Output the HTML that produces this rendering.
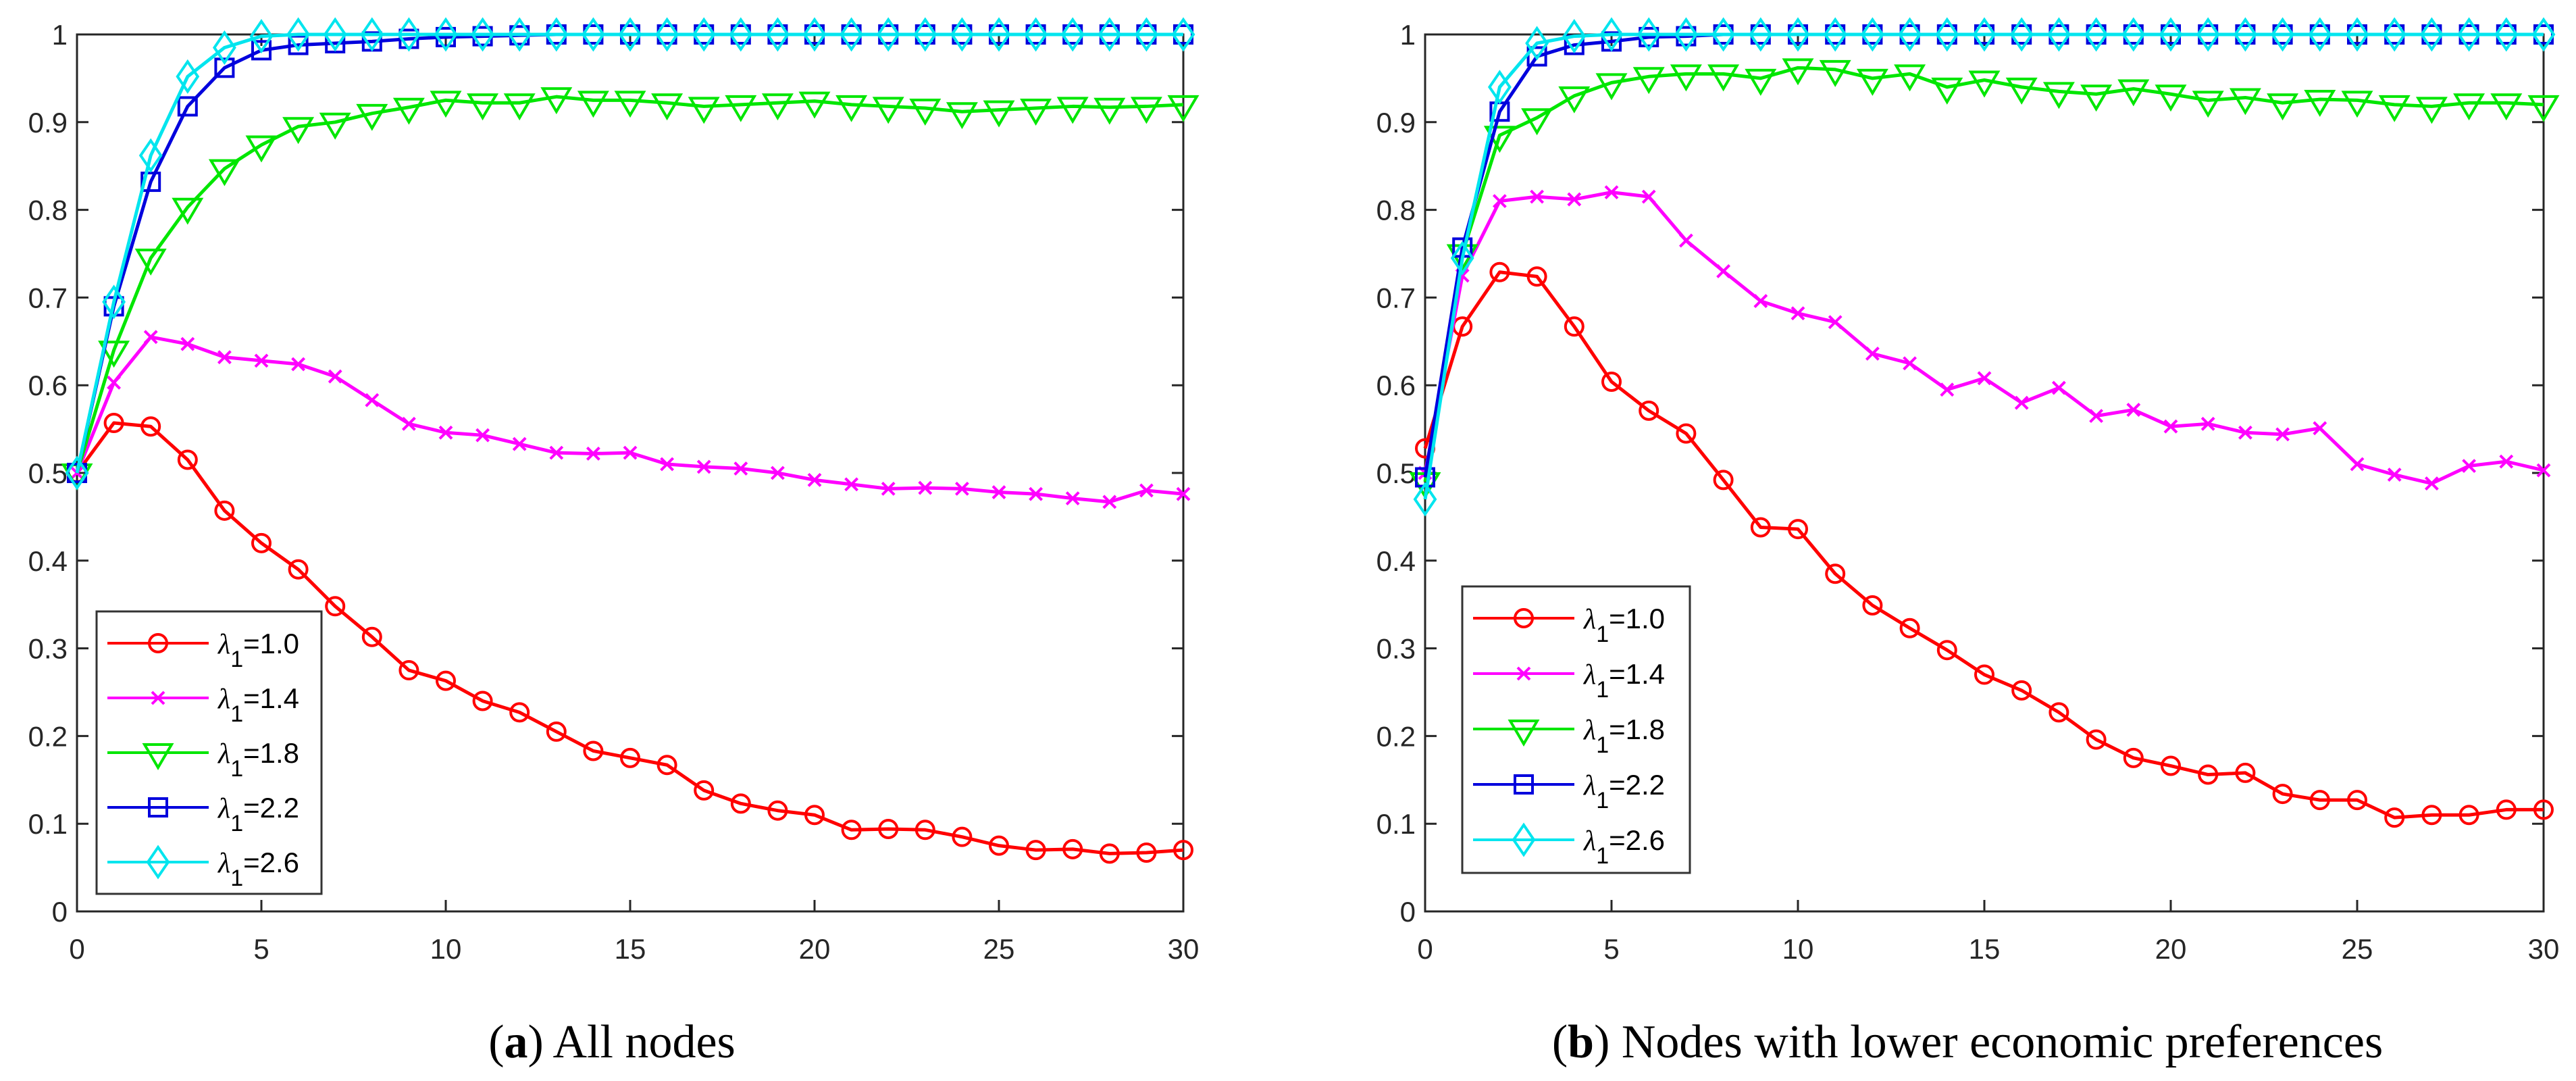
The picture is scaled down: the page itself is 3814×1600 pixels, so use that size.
<!DOCTYPE html>
<html><head><meta charset="utf-8"><style>
body{margin:0;background:#fff;}
svg{display:block;}
text{font-family:"Liberation Sans",Arial,sans-serif;}
</style></head><body>
<svg id="fig" width="3814" height="1600" xmlns="http://www.w3.org/2000/svg"></svg>
<script>
const xs = Array.from({length:31},(_, i)=>i);
const xTicks = [0,5,10,15,20,25,30];
const yTicks = [0,0.1,0.2,0.3,0.4,0.5,0.6,0.7,0.8,0.9,1];
const yTickLabels = ["0","0.1","0.2","0.3","0.4","0.5","0.6","0.7","0.8","0.9","1"];
const seriesNames = ["λ1=1.0","λ1=1.4","λ1=1.8","λ1=2.2","λ1=2.6"];
const legendValues = ["1.0","1.4","1.8","2.2","2.6"];
// Panel (a)
const aRed = [0.5,0.557,0.553,0.515,0.457,0.42,0.39,0.348,0.313,0.275,0.263,0.24,0.227,0.205,0.183,0.175,0.167,0.138,0.123,0.115,0.11,0.093,0.094,0.093,0.085,0.075,0.07,0.071,0.066,0.067,0.07];
const aMagenta = [0.5,0.603,0.655,0.647,0.632,0.628,0.624,0.61,0.583,0.556,0.546,0.543,0.533,0.523,0.522,0.523,0.51,0.507,0.505,0.5,0.492,0.487,0.482,0.483,0.482,0.478,0.476,0.471,0.467,0.48,0.476];
const aGreen = [0.5,0.64,0.745,0.803,0.847,0.874,0.895,0.9,0.91,0.917,0.925,0.922,0.922,0.929,0.925,0.925,0.922,0.918,0.92,0.922,0.924,0.92,0.918,0.916,0.912,0.914,0.916,0.918,0.917,0.918,0.92];
const aBlue = [0.5,0.69,0.832,0.918,0.962,0.982,0.988,0.99,0.992,0.995,0.997,0.998,0.999,1,1,1,1,1,1,1,1,1,1,1,1,1,1,1,1,1,1];
const aCyan = [0.5,0.695,0.862,0.952,0.985,0.998,1,1,1,1,1,1,1,1,1,1,1,1,1,1,1,1,1,1,1,1,1,1,1,1,1];
// Panel (b)
const bRed = [0.528,0.667,0.729,0.724,0.667,0.604,0.571,0.545,0.492,0.438,0.436,0.385,0.349,0.323,0.298,0.27,0.252,0.227,0.196,0.175,0.166,0.156,0.158,0.134,0.127,0.127,0.107,0.11,0.11,0.116,0.116];
const bMagenta = [0.5,0.725,0.81,0.815,0.812,0.82,0.815,0.765,0.73,0.696,0.682,0.672,0.636,0.625,0.595,0.608,0.58,0.597,0.565,0.572,0.553,0.556,0.546,0.544,0.551,0.51,0.498,0.488,0.508,0.513,0.503];
const bGreen = [0.49,0.75,0.885,0.905,0.93,0.945,0.952,0.955,0.955,0.95,0.962,0.96,0.95,0.955,0.94,0.948,0.94,0.935,0.932,0.938,0.932,0.925,0.928,0.922,0.926,0.925,0.92,0.918,0.922,0.922,0.92];
const bBlue = [0.495,0.757,0.912,0.975,0.988,0.992,0.997,0.998,1,1,1,1,1,1,1,1,1,1,1,1,1,1,1,1,1,1,1,1,1,1,1];
const bCyan = [0.47,0.745,0.94,0.99,0.998,1,1,1,1,1,1,1,1,1,1,1,1,1,1,1,1,1,1,1,1,1,1,1,1,1,1];

const NS="http://www.w3.org/2000/svg";
const svg=document.getElementById('fig');
function mk(tag,attrs,parent){const e=document.createElementNS(NS,tag);for(const k in attrs)e.setAttribute(k,attrs[k]);(parent||svg).appendChild(e);return e;}
const colors=["#ff0000","#ff00ff","#00e600","#0000dd","#00e5ee"];
const markers=["circle","x","tri","square","diamond"];

function marker(g,type,cx,cy,color){
  let e;
  if(type==="circle"){e=mk('circle',{cx:cx,cy:cy,r:13,fill:'none',stroke:color,'stroke-width':4},g);}
  else if(type==="x"){e=mk('path',{d:`M${cx-9} ${cy-9}L${cx+9} ${cy+9}M${cx-9} ${cy+9}L${cx+9} ${cy-9}`,stroke:color,'stroke-width':4,fill:'none'},g);}
  else if(type==="tri"){e=mk('path',{d:`M${cx-20} ${cy-12}L${cx+20} ${cy-12}L${cx} ${cy+22}Z`,stroke:color,'stroke-width':4,fill:'none'},g);}
  else if(type==="square"){e=mk('rect',{x:cx-13,y:cy-13,width:26,height:26,stroke:color,'stroke-width':4,fill:'none'},g);}
  else {e=mk('path',{d:`M${cx} ${cy-22}L${cx+15} ${cy}L${cx} ${cy+22}L${cx-15} ${cy}Z`,stroke:color,'stroke-width':4,fill:'none'},g);}
  
  
}

function panel(id,x0,x1,y0,y1,series,legend,caption,capX){
  const g=mk('g',{});
  
  
  const sx=v=>x0+(v-0)/(30-0)*(x1-x0);
  const sy=v=>y1-(v-0)/(1-0)*(y1-y0);
  const box=mk('rect',{x:x0,y:y0,width:x1-x0,height:y1-y0,fill:'none',stroke:'#262626','stroke-width':3},g);
  
  
  xTicks.forEach(t=>{
    const X=sx(t);
    mk('line',{x1:X,y1:y1,x2:X,y2:y1-17,stroke:'#262626','stroke-width':3},g);
    mk('line',{x1:X,y1:y0,x2:X,y2:y0+17,stroke:'#262626','stroke-width':3},g);
    const tx=mk('text',{x:X,y:y1+70,'font-size':42,'text-anchor':'middle',fill:'#262626'},g);
    tx.textContent=t;
    
    
  });
  yTicks.forEach((t,i)=>{
    const Y=sy(t);
    mk('line',{x1:x0,y1:Y,x2:x0+17,y2:Y,stroke:'#262626','stroke-width':3},g);
    mk('line',{x1:x1,y1:Y,x2:x1-17,y2:Y,stroke:'#262626','stroke-width':3},g);
    const ty=mk('text',{x:x0-14,y:Y+15,'font-size':42,'text-anchor':'end',fill:'#262626'},g);
    ty.textContent=yTickLabels[i];
    
    
  });
  series.forEach((arr,si)=>{
    const sg=mk('g',{},g);
    
    
    const pts=arr.map((v,i)=>sx(xs[i])+','+sy(v)).join(' ');
    const pl=mk('polyline',{points:pts,fill:'none',stroke:colors[si],'stroke-width':5,'stroke-linejoin':'round'},sg);
    
    
    arr.forEach((v,i)=>marker(sg,markers[si],sx(xs[i]),sy(v),colors[si]));
  });
  const lg=mk('g',{},g);
  
  
  mk('rect',{x:legend.x,y:legend.y,width:legend.w,height:legend.h,fill:'#fff',stroke:'#333','stroke-width':3},lg);
  seriesNames.forEach((n,si)=>{
    const Y=legend.row0+si*legend.dy;
    const eg=mk('g',{},lg);
    
    
    mk('line',{x1:legend.x+16,y1:Y,x2:legend.x+166,y2:Y,stroke:colors[si],'stroke-width':4},eg);
    marker(eg,markers[si],legend.x+91,Y,colors[si]);
    const t=mk('text',{x:legend.x+180,y:Y+15,'font-size':42,fill:'#000'},eg);
    const l=mk('tspan',{style:'font-family:"Liberation Serif",serif;font-style:italic'},t);l.textContent='λ';
    const s=mk('tspan',{dy:20,'font-size':34},t);s.textContent='1';
    const r=mk('tspan',{dy:-20},t);r.textContent='='+legendValues[si];
  });
  const c=mk('text',{x:capX,y:1565,'font-size':70,'text-anchor':'middle',style:'font-family:"Liberation Serif",serif',fill:'#000'},g);
  
  
  const a=mk('tspan',{},c);a.textContent='(';
  const b=mk('tspan',{'font-weight':'bold'},c);b.textContent=id;
  const d=mk('tspan',{},c);d.textContent=') '+caption;
}
panel('a',114,1752,51,1349,[aRed,aMagenta,aGreen,aBlue,aCyan],{x:143,y:905,w:333,h:418,row0:952,dy:81},'All nodes',906);
panel('b',2110,3766,51,1349,[bRed,bMagenta,bGreen,bBlue,bCyan],{x:2165,y:868,w:337,h:424,row0:915,dy:82},'Nodes with lower economic preferences',2913);
</script>
</body></html>
